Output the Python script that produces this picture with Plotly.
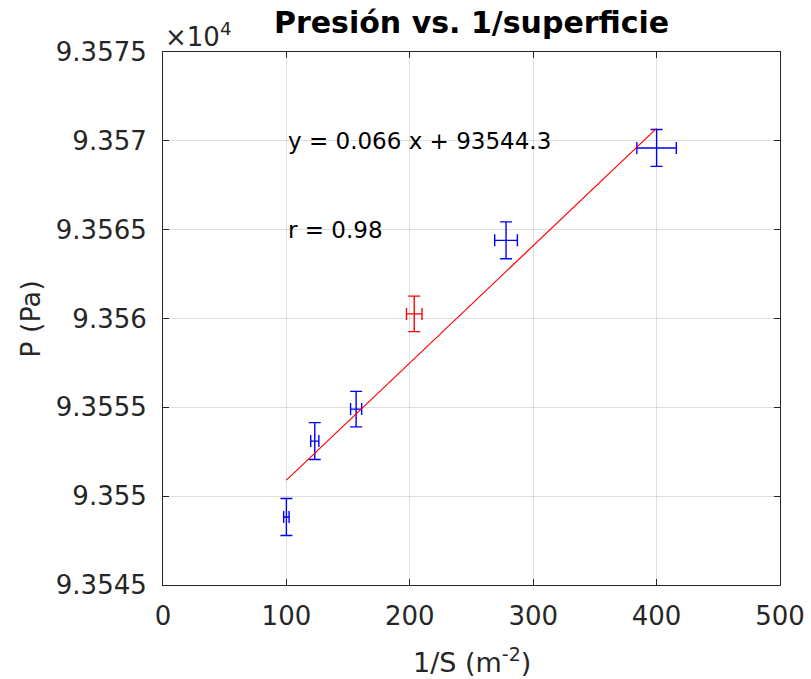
import plotly.graph_objects as go

# Measured data: 1/S (m^-2) vs pressure (Pa), with uncertainties
inv_s = [100, 123, 156.5, 278, 400]
inv_s_err = [2.2, 3.3, 4.5, 9.2, 16]
pres = [93548.83, 93553.1, 93554.9, 93564.4, 93569.6]
pres_err = [1.04, 1.04, 1.0, 1.04, 1.04]

# Outlier point (excluded from the fit)
out_x = [203.6]
out_x_err = [6.3]
out_y = [93560.26]
out_y_err = [1.0]

# Linear fit P = a * (1/S) + b
fit_a = 0.066
fit_b = 93544.3
fit_r = 0.98
fit_x = [100, 400]
fit_y = [fit_a * v + fit_b for v in fit_x]

y_ticks = [93545, 93550, 93555, 93560, 93565, 93570, 93575]
y_tick_text = ["9.3545", "9.355", "9.3555", "9.356", "9.3565", "9.357", "9.3575"]
x_ticks = [0, 100, 200, 300, 400, 500]

FONT = "DejaVu Sans"
AX = "#262626"
GRID = "rgba(38,38,38,0.15)"

fig = go.Figure()


def err_trace(x, xe, y, ye, color):
    return go.Scatter(
        x=x, y=y, mode="markers",
        marker=dict(size=4, color=color, opacity=0),
        error_x=dict(type="data", array=xe, visible=True, color=color,
                     thickness=1.4, width=6),
        error_y=dict(type="data", array=ye, visible=True, color=color,
                     thickness=1.4, width=6),
        showlegend=False, hoverinfo="x+y",
    )


fig.add_trace(err_trace(inv_s, inv_s_err, pres, pres_err, "#0000ff"))
fig.add_trace(err_trace(out_x, out_x_err, out_y, out_y_err, "#ff0000"))
fig.add_trace(go.Scatter(x=fit_x, y=fit_y, mode="lines",
                         line=dict(color="#ff0000", width=1.2),
                         showlegend=False))

fig.add_annotation(x=100, y=93570, xref="x", yref="y",
                   text=f"y = {fit_a} x + {fit_b}", showarrow=False,
                   xanchor="left", yanchor="middle",
                   font=dict(family=FONT, size=23, color="#000000"))
fig.add_annotation(x=100, y=93565, xref="x", yref="y",
                   text=f"r = {fit_r}", showarrow=False,
                   xanchor="left", yanchor="middle",
                   font=dict(family=FONT, size=23, color="#000000"))
fig.add_annotation(x=0, y=1, xref="paper", yref="paper",
                   text="×10<sup>4</sup>", showarrow=False,
                   xanchor="left", yanchor="bottom", yshift=-2,
                   font=dict(family=FONT, size=26, color=AX))

# Axis titles placed as annotations
fig.add_annotation(x=0.5, y=-0.141, xref="paper", yref="paper",
                   text="1/S (m<sup>-2</sup>)", showarrow=False,
                   xanchor="center", yanchor="middle",
                   font=dict(family=FONT, size=27, color=AX))
fig.add_annotation(x=-0.215, y=0.5, xref="paper", yref="paper",
                   text="P (Pa)", showarrow=False, textangle=-90,
                   xanchor="center", yanchor="middle",
                   font=dict(family=FONT, size=27, color=AX))

axis_common = dict(
    showline=True, linecolor=AX, linewidth=1, mirror="ticks",
    ticks="inside", ticklen=6, tickcolor=AX, tickwidth=1,
    showgrid=True, gridcolor=GRID, gridwidth=1, zeroline=False,
    tickfont=dict(family=FONT, size=26, color=AX), automargin=False,
)

fig.update_xaxes(range=[0, 500], tickvals=x_ticks, ticklabelstandoff=8,
                 **axis_common)
fig.update_yaxes(range=[93545, 93575], tickvals=y_ticks, ticktext=y_tick_text,
                 ticklabelstandoff=10, **axis_common)

fig.update_layout(
    width=811, height=679,
    margin=dict(l=163, r=31, t=52, b=94),
    paper_bgcolor="white", plot_bgcolor="white",
    title=dict(text="<b>Presión vs. 1/superficie</b>", x=0.5815, xanchor="center",
               y=0.967, yanchor="middle",
               font=dict(family=FONT, size=30, color="#000000")),
)

fig.write_html("out.html")
